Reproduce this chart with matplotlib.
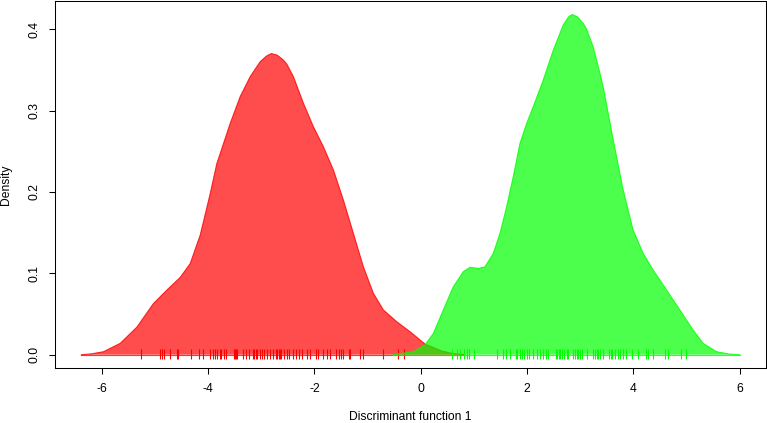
import matplotlib
matplotlib.use("Agg")
import matplotlib.pyplot as plt

plt.rcParams['font.family'] = ['Liberation Sans', 'DejaVu Sans']

# density curve of group 1 (red)
red_x = [-6.385, -6.2, -5.966, -5.652, -5.338, -5.026, -4.774, -4.524, -4.336, -4.148,
         -3.96, -3.835, -3.773, -3.585, -3.397, -3.209, -3.02, -2.9, -2.81, -2.7, -2.583,
         -2.519, -2.395, -2.207, -2.019, -1.831, -1.643, -1.455, -1.267, -1.079, -0.891,
         -0.703, -0.451, -0.201, 0.081, 0.4, 0.6, 0.81]
red_y = [0.0, 0.001, 0.0037, 0.014, 0.034, 0.063, 0.0795, 0.095, 0.112, 0.147,
         0.198, 0.235, 0.247, 0.284, 0.317, 0.3415, 0.360, 0.367, 0.370, 0.368, 0.362,
         0.357, 0.3415, 0.309, 0.280, 0.2555, 0.227, 0.190, 0.149, 0.108, 0.0754,
         0.055, 0.0405, 0.0283, 0.013, 0.0045, 0.0015, 0.0]

# density curve of group 2 (green)
green_x = [-0.52, -0.139, 0.081, 0.237, 0.425, 0.613, 0.801, 0.927, 1.083, 1.209,
           1.365, 1.491, 1.617, 1.741, 1.867, 1.992, 2.117, 2.305, 2.493,
           2.68, 2.78, 2.85, 2.95, 3.057, 3.12, 3.245, 3.37, 3.433, 3.621, 3.808, 3.996,
           4.184, 4.372, 4.624, 4.874, 5.124, 5.312, 5.564, 5.8, 6.0]
green_y = [0.0, 0.0037, 0.012, 0.026, 0.055, 0.0835, 0.102, 0.1074, 0.106, 0.108,
           0.1245, 0.149, 0.182, 0.2187, 0.2597, 0.284, 0.3047, 0.3375, 0.374,
           0.405, 0.415, 0.418, 0.415, 0.407, 0.400, 0.378, 0.346, 0.329, 0.264, 0.2023, 0.153,
           0.1245, 0.104, 0.0795, 0.055, 0.0303, 0.014, 0.0037, 0.0008, 0.0]

# individual scores (rug)
red_rug = [-5.27, -4.913, -4.869, -4.825, -4.725, -4.587, -4.575, -4.324, -4.167, -4.098,
           -3.961, -3.910, -3.873, -3.835, -3.785, -3.748, -3.710, -3.660, -3.522, -3.497,
           -3.472, -3.447, -3.346, -3.284, -3.234, -3.158, -3.133, -3.108, -3.083, -3.033,
           -2.989, -2.945, -2.895, -2.833, -2.770, -2.720, -2.695, -2.670, -2.645, -2.620,
           -2.570, -2.520, -2.469, -2.394, -2.344, -2.281, -2.237, -2.143, -2.081, -1.968,
           -1.924, -1.830, -1.767, -1.705, -1.592, -1.542, -1.498, -1.454, -1.341, -1.323,
           -1.141, -1.078, -0.702, -0.421, -0.308]
green_rug = [0.595, 0.676, 0.739, 0.814, 0.864, 0.914, 1.002, 1.440, 1.541, 1.603,
             1.679, 1.791, 1.816, 1.866, 1.898, 1.942, 1.992, 2.042, 2.105, 2.180,
             2.242, 2.292, 2.355, 2.399, 2.543, 2.568, 2.593, 2.618, 2.656, 2.693,
             2.744, 2.775, 2.869, 2.900, 2.932, 2.963, 2.994, 3.026, 3.120, 3.245,
             3.276, 3.308, 3.339, 3.370, 3.433, 3.546, 3.571, 3.596, 3.652, 3.715,
             3.746, 3.796, 3.859, 3.966, 4.091, 4.235, 4.279, 4.373, 4.592, 4.655,
             4.887, 4.987]

xticks = [-6, -4, -2, 0, 2, 4, 6]
yticks = [0.0, 0.1, 0.2, 0.3, 0.4]

fig = plt.figure(figsize=(7.67, 4.23), dpi=100)
ax = fig.add_axes([55/767, 1 - 368.3/423, 711/767, 367.4/423])

ax.fill(red_x, red_y, facecolor='red', alpha=0.7, edgecolor='none', zorder=2)
ax.plot(red_x, red_y, color='red', linewidth=0.8, alpha=0.8, zorder=2)
ax.plot([red_x[0], red_x[-1]], [0, 0], color='red', linewidth=0.8, alpha=0.8, zorder=2)
ax.vlines(red_rug, -0.0057, 0.0066, color='red', linewidth=0.8, zorder=3)

ax.fill(green_x, green_y, facecolor='#00FF00', alpha=0.7, edgecolor='none', zorder=4)
ax.plot(green_x, green_y, color='#00FF00', linewidth=0.8, alpha=0.8, zorder=4)
ax.plot([green_x[0], green_x[-1]], [0, 0], color='#00FF00', linewidth=0.8, alpha=0.8, zorder=4)
ax.vlines(green_rug, -0.0057, 0.0066, color='#00FF00', linewidth=0.8, zorder=5)

ax.set_xlim(-6.88, 6.495)
ax.set_ylim(-0.0167, 0.4347)
ax.set_xticks(xticks)
ax.set_xticklabels([str(v) for v in xticks])
ax.set_yticks(yticks)
ax.set_yticklabels(['%.1f' % v for v in yticks], rotation=90, va='center')
ax.tick_params(labelsize=8.7, length=4.3, width=0.75, pad=6.5)
for s in ax.spines.values():
    s.set_linewidth(0.75)

fig.text(410.5/767, 1 - 416.5/423, 'Discriminant function 1', ha='center', va='center', fontsize=8.7)
fig.text(6/767, 1 - 184.6/423, 'Density', ha='center', va='center', rotation=90, fontsize=8.7)

fig.savefig('out.png', dpi=100)
